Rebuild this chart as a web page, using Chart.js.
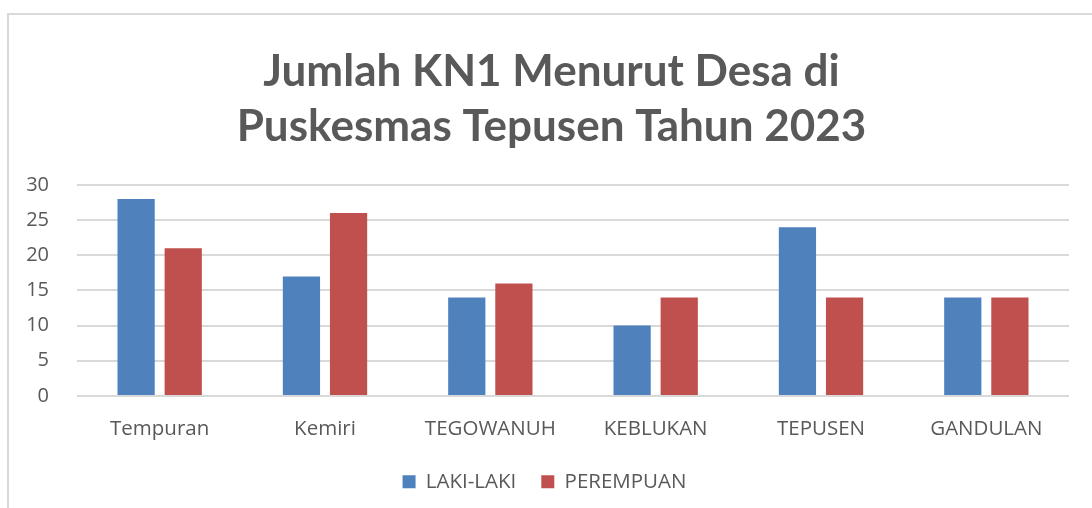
<!DOCTYPE html>
<html>
<head>
<meta charset="utf-8">
<script src="https://cdn.jsdelivr.net/npm/chart.js@4"></script>
<style>
  html, body { margin: 0; padding: 0; background: #fff; }
  #wrap { position: relative; width: 1092px; height: 508px; overflow: hidden; }
  #frame { position: absolute; left: 7px; top: 13px; width: 1100px; height: 520px;
           border-top: 2px solid #d9d9d9; border-left: 2px solid #d9d9d9; }
  canvas { position: absolute; left: 0; top: 0; }
</style>
</head>
<body>
<div id="wrap">
  <div id="frame"></div>
  <canvas id="chart" width="1092" height="508"></canvas>
</div>
<script>
// data
const desa = ['Tempuran', 'Kemiri', 'TEGOWANUH', 'KEBLUKAN', 'TEPUSEN', 'GANDULAN'];
const lakiLaki = [28, 17, 14, 10, 24, 14];
const perempuan = [21, 26, 16, 14, 14, 14];
const yTicks = [0, 5, 10, 15, 20, 25, 30];

const abu = '#595959';

// judul digeser ke kanan, legenda sedikit ke atas
const geserPosisi = {
    id: 'geserPosisi',
    afterLayout(chart) {
        if (chart.titleBlock) {
            chart.titleBlock.left += 7;
            chart.titleBlock.right += 7;
        }
        if (chart.legend) {
            chart.legend.top -= 8;
            chart.legend.bottom -= 8;
        }
    }
};

const ctx = document.getElementById('chart').getContext('2d');
new Chart(ctx, {
    type: 'bar',
    data: {
        labels: desa,
        datasets: [
            { label: 'LAKI-LAKI', data: lakiLaki, backgroundColor: '#4f81bd' },
            { label: 'PEREMPUAN', data: perempuan, backgroundColor: '#c0504d' }
        ]
    },
    options: {
        responsive: false,
        animation: false,
        layout: { padding: { left: 20, right: 23, top: 44, bottom: -2 } },
        datasets: { bar: { categoryPercentage: 0.57, barPercentage: 0.79 } },
        plugins: {
            title: {
                display: true,
                text: ['Jumlah KN1 Menurut Desa di', 'Puskesmas Tepusen Tahun 2023'],
                color: abu,
                font: { family: 'Lato', size: 44, weight: 'bold', lineHeight: 1.25 },
                padding: { top: 0, bottom: 31 }
            },
            legend: {
                position: 'bottom',
                labels: {
                    color: abu,
                    font: { family: 'Open Sans', size: 20.5 },
                    boxWidth: 13, boxHeight: 13,
                    padding: 25
                }
            },
            tooltip: { enabled: false }
        },
        scales: {
            x: {
                grid: { display: false },
                border: { display: false },
                ticks: { color: abu, font: { family: 'Open Sans', size: 20.5 }, padding: 13 }
            },
            y: {
                min: 0, max: 30,
                afterBuildTicks: (s) => { s.ticks = yTicks.map(v => ({ value: v })); },
                afterFit: (s) => { s.width = 57; },
                grid: { color: '#d9d9d9', lineWidth: 2, drawTicks: false },
                border: { display: false },
                ticks: { color: abu, font: { family: 'Open Sans', size: 20 }, padding: 28 }
            }
        }
    },
    plugins: [geserPosisi]
});
</script>
</body>
</html>
